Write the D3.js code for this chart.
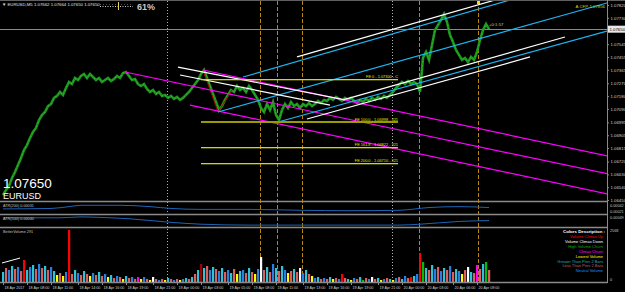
<!DOCTYPE html>
<html><head><meta charset="utf-8">
<script src="https://cdn.jsdelivr.net/npm/d3@7"></script>
<style>
html,body{margin:0;padding:0;background:#000;overflow:hidden}
svg{display:block}
text{font-family:"Liberation Sans",Arial,sans-serif}
</style></head><body><svg id="c" width="625" height="292"></svg>
<script>
// ---------------- data ----------------
const headerText = "\u25BC EURUSD,M5  1.07662 1.07664 1.07650 1.07650";
const symbol = "EURUSD";
const lastPrice = 1.07650;
const spreadPct = "61%";
const timerText = "+0:1:57";
const cfpText = "A CFP-1.07856";

const closes = [1.06485,1.06520,1.06548,1.06605,1.06647,1.06696,1.06745,1.06801,1.06836,1.06886,
1.06928,1.06956,1.07012,1.07047,1.07068,1.07110,1.07124,1.07167,1.07181,1.07209,
1.07188,1.07237,1.07279,1.07265,1.07307,1.07293,1.07321,1.07335,1.07307,1.07335,
1.07314,1.07293,1.07307,1.07279,1.07293,1.07307,1.07286,1.07300,1.07321,1.07307,
1.07342,1.07349,1.07321,1.07293,1.07300,1.07265,1.07251,1.07265,1.07230,1.07209,
1.07223,1.07195,1.07209,1.07181,1.07188,1.07167,1.07181,1.07160,1.07174,1.07153,
1.07167,1.07188,1.07209,1.07237,1.07265,1.07293,1.07335,1.07363,1.07307,1.07251,
1.07195,1.07138,1.07082,1.07110,1.07153,1.07188,1.07223,1.07209,1.07251,1.07223,
1.07237,1.07209,1.07251,1.07223,1.07188,1.07153,1.07096,1.07068,1.07124,1.07082,
1.07138,1.07047,1.07012,1.07082,1.07124,1.07096,1.07138,1.07110,1.07124,1.07096,
1.07124,1.07110,1.07131,1.07110,1.07124,1.07146,1.07131,1.07153,1.07146,1.07167,
1.07153,1.07174,1.07160,1.07146,1.07167,1.07153,1.07167,1.07146,1.07131,1.07153,
1.07138,1.07160,1.07146,1.07167,1.07153,1.07174,1.07160,1.07181,1.07167,1.07188,
1.07209,1.07237,1.07258,1.07279,1.07265,1.07286,1.07265,1.07279,1.07265,1.07209,
1.07448,1.07490,1.07434,1.07539,1.07644,1.07679,1.07715,1.07757,1.07700,1.07609,
1.07560,1.07504,1.07469,1.07434,1.07448,1.07419,1.07455,1.07434,1.07490,1.07574,
1.07644,1.07686,1.07650];

const priceTicks = [1.07820,1.07730,1.07545,1.07455,1.07365,1.07270,1.07180,1.07090,
1.06995,1.06905,1.06815,1.06720,1.06630,1.06540,1.06450];

const timeTickIdx = [0,8,16,25,33,41,50,58,66,75,83,91,100,108,116,125,133,141,150,158];
const timeTickLabels = ["18 Apr 2017","18 Apr 08:00","18 Apr 11:00","18 Apr 14:00","18 Apr 16:00",
"18 Apr 19:00","18 Apr 21:00","19 Apr 00:00","19 Apr 03:00","19 Apr 05:00","19 Apr 08:00",
"19 Apr 11:00","19 Apr 13:00","19 Apr 16:00","19 Apr 19:00","19 Apr 21:00","20 Apr 00:00",
"20 Apr 03:00","20 Apr 06:00","20 Apr 09:00"];

// trend lines: [idx1, price1, idx2, price2]
const magentaLines = [[66.67,1.07363,201.67,1.06759],[40.67,1.07349,201.67,1.06633],[62.33,1.07117,201.67,1.06492]];
const cyanLines = [[80,1.07314,169,1.07855],[71.67,1.07068,201.33,1.07834],[91.67,1.06998,201.33,1.07637]];
const whiteUpLines = [[98,1.07455,164,1.07855],[113.33,1.07153,187.33,1.07595],[101.33,1.07019,175.67,1.07455]];
const whiteDownLines = [[58.33,1.07384,114,1.07153],[59,1.07328,109,1.07117]];
const zigzag = [[66.67,1.07363],[71.67,1.07068],[76.33,1.07223]];

const feStartIdx = 66, feEndIdx = 131.67;
const feLabels = ["FE 0 - 1.07300 - C","FE 100.0 - 1.06998 - 321","FE 161.8 - 1.06822 - 321","FE 200.0 - 1.06710 - 321"];
const fePrices = [1.07300,1.06998,1.06822,1.06710];

const dottedVLines = [54.67,129.67];
const dashedVLines = [85.67,91.33,99.67,138.67,158.33];

// ATR panels
const atr1Idx = [0,16,22,26,39,49,56,66,82,99,116,132,142,152,162];
const atr1Val = [0.000298,0.000309,0.000353,0.000385,0.000385,0.000353,0.000309,0.000287,0.000287,0.000265,0.000255,0.000265,0.000331,0.000353,0.000331];
const atr2Idx = [0,19,26,32,42,56,66,82,116,132,139,152,162];
const atr2Val = [0.000464,0.000464,0.000482,0.000473,0.000445,0.000373,0.000336,0.000318,0.000318,0.000318,0.000336,0.000391,0.000409];
const atr1Label = "ATR(200) 0.00031", atr2Label = "ATR(500) 0.00040";
const atr1Ticks = ["0.00042","0.00021"], atr2Ticks = ["0.00049"];

// volume
const volumes = [485,678,581,775,630,727,533,1066,581,727,
824,630,872,678,775,581,727,533,339,436,
291,485,2519,388,581,436,339,533,388,291,
436,339,485,291,388,242,339,194,291,242,
145,291,194,242,145,242,145,242,145,97,
242,145,97,145,97,194,145,97,145,97,
145,194,145,242,388,581,872,678,775,581,
727,630,533,678,485,581,436,630,388,533,
581,436,678,485,388,630,1211,581,727,485,
872,678,533,775,581,436,533,630,485,678,
436,581,388,291,194,242,145,194,145,242,
145,194,145,388,194,145,97,194,145,242,
97,194,145,242,145,194,97,145,194,145,
97,194,242,145,291,194,242,291,388,1405,
969,678,581,824,630,727,533,678,581,775,
485,630,533,388,581,727,485,436,824,630,
872,969,581];
const volumeCodes = "tsbtsbsrtb"+"tsbstsbtys"+"ybrstbstsy"+"bstsbytsbs"+"ytsbsmybsy"+
"wsbsytsbsy"+"btststdtsb"+"tsbtsbtsyt"+"bstsybwsts"+"btstbystsw"+"btsybtsbst"+
"ysbrstybst"+"gsbwstybst"+"ybstbsrtbr"+"gtstbsbtsb"+"stbyswtsms"+"tgs";
const volumeLabel = "BetterVolume 291";
const volumeMaxLabel = "2568";
const legendTitle = "Colors Description :";
const legendItems = ["Volume Climax Up","Volume Climax Down","High Volume Churn","Climax Churn",
"Lowest Volume","Greater Than Prev 2 Bars","Less Than Prev 2 Bars","Neutral Volume"];
const legendCodes = ["r","w","g","m","y","t","s","b"];

// ---------------- styles ----------------
const colorMap = {t:"#2ec4d6",s:"#d9605f",b:"#2a7fe0",y:"#ffff00",r:"#ff0000",w:"#ffffff",g:"#00c000",m:"#ff00ff",d:"#a00000"};
const legendColorMap = {r:"#ff0000",w:"#ffffff",g:"#00b000",m:"#ff00ff",y:"#ffff00",t:"#20b2aa",s:"#cd5c5c",b:"#1e90ff"};
const gray = "#8a8a8a";

// ---------------- layout ----------------
const W = 625, H = 292;
const axisX = 607;
const mainTop = 0, mainBot = 201;
const a1Top = 203, a1Bot = 213;
const a2Top = 216, a2Bot = 226;
const vTop = 229, vBot = 282;

const svg = d3.select("#c");
svg.append("rect").attr("width",W).attr("height",H).attr("fill","#000");

const x = d3.scaleLinear().domain([0,201.33]).range([3,axisX]);
const y = d3.scaleLinear().domain([1.07855,1.06443]).range([mainTop,mainBot]);
const yA1 = d3.scaleLinear().domain([0.00020,0.00044]).range([a1Bot,a1Top]);
const yA2 = d3.scaleLinear().domain([0.00030,0.00050]).range([a2Bot,a2Top]);
const yV = d3.scaleLinear().domain([0,2568]).range([vBot,vTop]);

svg.append("clipPath").attr("id","mainClip").append("rect")
  .attr("x",0).attr("y",1).attr("width",axisX).attr("height",mainBot-1);

// vertical separators (all panels)
const vg = svg.append("g");
vg.selectAll("line.dot").data(dottedVLines).join("line")
  .attr("x1",d=>Math.round(x(d))+0.5).attr("x2",d=>Math.round(x(d))+0.5)
  .attr("y1",1).attr("y2",vBot)
  .attr("stroke","#b0b0b0").attr("stroke-width",1).attr("stroke-dasharray","1,2");
vg.selectAll("line.dash").data(dashedVLines).join("line")
  .attr("x1",d=>Math.round(x(d))+0.5).attr("x2",d=>Math.round(x(d))+0.5)
  .attr("y1",1).attr("y2",vBot)
  .attr("stroke","#b8860b").attr("stroke-width",1).attr("stroke-dasharray","4,2");

// main panel
const mg = svg.append("g").attr("clip-path","url(#mainClip)");
mg.append("line").attr("x1",0).attr("x2",axisX).attr("y1",Math.round(y(lastPrice))+0.5).attr("y2",Math.round(y(lastPrice))+0.5)
  .attr("stroke","#8a8a8a").attr("stroke-width",1);

// price
mg.append("path").datum(closes)
  .attr("d",d3.line().x((d,i)=>x(i)).y(d=>y(d)))
  .attr("fill","none").attr("stroke","#1c961c").attr("stroke-width",2.6).attr("stroke-linejoin","miter");
mg.append("path").datum(closes)
  .attr("d",d3.line().x((d,i)=>x(i)).y(d=>y(d)))
  .attr("fill","none").attr("stroke","#36c836").attr("stroke-width",0.7).attr("stroke-dasharray","1.5,2.5");

// zigzag
mg.append("path").datum(zigzag)
  .attr("d",d3.line().x(d=>x(d[0])).y(d=>y(d[1])))
  .attr("fill","none").attr("stroke","#b00000").attr("stroke-width",1);

function drawLines(data,color,w){
  mg.append("g").selectAll("line").data(data).join("line")
    .attr("x1",d=>x(d[0])).attr("y1",d=>y(d[1])).attr("x2",d=>x(d[2])).attr("y2",d=>y(d[3]))
    .attr("stroke",color).attr("stroke-width",w);
}
drawLines(magentaLines,"#ff00ff",1.2);
drawLines(cyanLines,"#1eb4f0",1.2);
drawLines(whiteDownLines,"#ffffff",1.2);
drawLines(whiteUpLines,"#ffffff",1.2);

// FE levels
const feg = mg.append("g");
fePrices.forEach((p,i)=>{
  feg.append("rect").attr("x",x(feStartIdx)).attr("width",x(feEndIdx)-x(feStartIdx))
    .attr("y",Math.round(y(p)) - (i===1 ? 1 : 0)).attr("height", i===1 ? 2 : 1.3)
    .attr("fill", i===1 ? "#9a9a00" : "#d8d800");
  feg.append("text").attr("x",x(feEndIdx)).attr("y",y(p)-1)
    .attr("text-anchor","end").attr("font-size","3.9px").attr("fill","#e6e600").text(feLabels[i]);
});

// timer & cfp texts
mg.append("text").attr("x",x(closes.length-1)).attr("y",y(lastPrice)-3)
  .attr("font-size","4.3px").attr("fill","#c8c8c8").text(timerText);
svg.append("text").attr("x",axisX-2).attr("y",8).attr("text-anchor","end")
  .attr("font-size","4.3px").attr("fill","#d6d600").text(cfpText);
svg.append("rect").attr("x",x(158.33)-1).attr("y",1).attr("width",3).attr("height",3).attr("fill","#e6e600");

// header
svg.append("line").attr("x1",0).attr("x2",W).attr("y1",0.5).attr("y2",0.5).attr("stroke","#606060");
svg.append("text").attr("x",2).attr("y",6).attr("font-size","4.3px").attr("fill","#e0e0e0").text(headerText);
svg.append("line").attr("x1",100).attr("x2",133).attr("y1",6.5).attr("y2",6.5)
  .attr("stroke","#d0d0d0").attr("stroke-dasharray","1,1.5");
svg.append("line").attr("x1",100).attr("x2",133).attr("y1",4.5).attr("y2",4.5)
  .attr("stroke","#808080").attr("stroke-dasharray","0.6,2.4");
svg.append("line").attr("x1",118.5).attr("x2",118.5).attr("y1",2).attr("y2",10).attr("stroke","#e8d060").attr("stroke-width",1);
svg.append("text").attr("x",137).attr("y",10).attr("font-size","9px").attr("font-weight","bold").attr("fill","#c8c8c8").text(spreadPct);

// big price label
svg.append("text").attr("x",3).attr("y",188).attr("font-size","13.5px").attr("fill","#ffffff").text(d3.format(".5f")(lastPrice));
svg.append("text").attr("x",3).attr("y",199).attr("font-size","9px").attr("fill","#ffffff").text(symbol);

// right price axis
const ax = svg.append("g").attr("transform",`translate(${axisX},0)`)
  .call(d3.axisRight(y).tickValues(priceTicks).tickFormat(d3.format(".5f")).tickSize(2).tickPadding(1.5));
ax.select(".domain").remove();
ax.selectAll("line").attr("stroke",gray);
ax.selectAll("text").attr("font-size","4.3px").attr("fill","#d0d0d0").attr("font-family","Liberation Sans, Arial");
const lp = svg.append("g").attr("transform",`translate(${axisX},${y(lastPrice)})`);
lp.append("rect").attr("x",1).attr("y",-3.5).attr("width",17).attr("height",7).attr("fill","#e8e8e8");
lp.append("text").attr("x",2.5).attr("y",1.6).attr("font-size","4.3px").attr("fill","#000").text(d3.format(".5f")(lastPrice));

// ATR panels
svg.append("path").datum(atr1Idx.map((d,i)=>[d,atr1Val[i]]))
  .attr("d",d3.line().curve(d3.curveMonotoneX).x(d=>x(d[0])).y(d=>yA1(d[1])))
  .attr("fill","none").attr("stroke","#1f64b4").attr("stroke-width",1);
svg.append("path").datum(atr2Idx.map((d,i)=>[d,atr2Val[i]]))
  .attr("d",d3.line().curve(d3.curveMonotoneX).x(d=>x(d[0])).y(d=>yA2(d[1])))
  .attr("fill","none").attr("stroke","#1f64b4").attr("stroke-width",1);
svg.append("text").attr("x",3).attr("y",207).attr("font-size","3.8px").attr("fill","#c0c0c0").text(atr1Label);
svg.append("text").attr("x",3).attr("y",220).attr("font-size","3.8px").attr("fill","#c0c0c0").text(atr2Label);
svg.append("text").attr("x",axisX+3).attr("y",206.5).attr("font-size","3.8px").attr("fill","#c0c0c0").text(atr1Ticks[0]);
svg.append("text").attr("x",axisX+3).attr("y",212.5).attr("font-size","3.8px").attr("fill","#c0c0c0").text(atr1Ticks[1]);
svg.append("text").attr("x",axisX+3).attr("y",218.5).attr("font-size","3.8px").attr("fill","#c0c0c0").text(atr2Ticks[0]);

// volume
svg.append("g").selectAll("rect").data(volumes).join("rect")
  .attr("x",(d,i)=>x(i)-1).attr("width",2.2)
  .attr("y",d=>yV(d)).attr("height",d=>vBot-yV(d))
  .attr("fill",(d,i)=>colorMap[volumeCodes[i]]);
svg.append("line").attr("x1",x(-0.33)).attr("y1",yV(920)).attr("x2",x(5.67)).attr("y2",yV(1160))
  .attr("stroke","#ffffff").attr("stroke-width",1);
svg.append("text").attr("x",3).attr("y",233).attr("font-size","3.8px").attr("fill","#c0c0c0").text(volumeLabel);
svg.append("text").attr("x",axisX+3).attr("y",231.5).attr("font-size","3.8px").attr("fill","#c0c0c0").text(volumeMaxLabel);
svg.append("text").attr("x",axisX+3).attr("y",281).attr("font-size","3.8px").attr("fill","#c0c0c0").text("0");
const lg = svg.append("g");
lg.append("text").attr("x",axisX-2).attr("y",233).attr("text-anchor","end").attr("font-size","4.4px")
  .attr("font-weight","bold").attr("fill","#ffffff").text(legendTitle);
lg.selectAll("text.item").data(legendItems).join("text").attr("class","item")
  .attr("x",axisX-4).attr("y",(d,i)=>238+i*4.9).attr("text-anchor","end").attr("font-size","4px")
  .attr("fill",(d,i)=>legendColorMap[legendCodes[i]]).text(d=>d);

// panel borders
const sep = svg.append("g");
[201.5,214.5,227.5,282.5].forEach(v=>{
  sep.append("line").attr("x1",0).attr("x2",axisX+0.5).attr("y1",v).attr("y2",v).attr("stroke",gray).attr("stroke-width",1.6);
});
sep.append("line").attr("x1",axisX+0.5).attr("x2",axisX+0.5).attr("y1",0).attr("y2",283).attr("stroke",gray).attr("stroke-width",1);

// time axis
const tx = svg.append("g").attr("transform",`translate(0,283)`)
  .call(d3.axisBottom(x).tickValues(timeTickIdx).tickFormat((d,i)=>timeTickLabels[i]).tickSize(2).tickPadding(1));
tx.select(".domain").remove();
tx.selectAll("line").attr("stroke",gray);
tx.selectAll("text").attr("text-anchor","start").attr("font-size","3.7px").attr("fill","#d0d0d0")
  .attr("font-family","Liberation Sans, Arial").attr("dx","1");
</script></body></html>
